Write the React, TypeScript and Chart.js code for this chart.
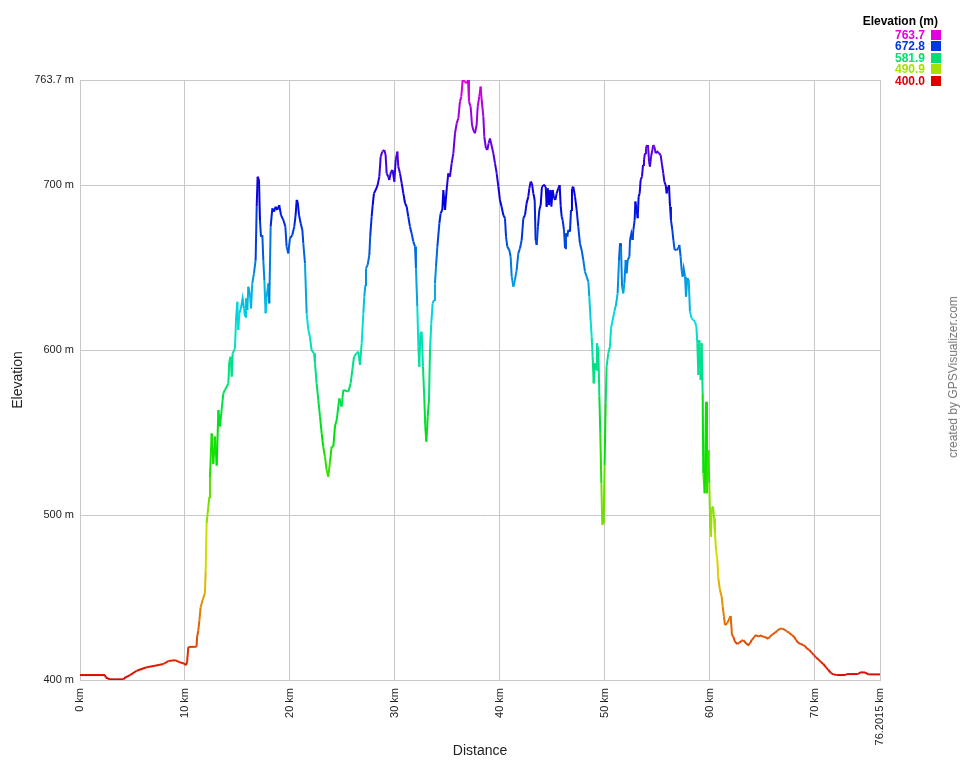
import React, { useEffect, useRef } from "react";
import { Chart, registerables } from "chart.js";

Chart.register(...registerables);

const distKm = [
  0, 2.38, 2.45, 2.86, 4.13, 4.3, 4.76, 5.4, 6.35, 7.14, 7.94, 8.41, 9.05, 9.52, 9.9, 10.1, 10.2, 10.32, 11.1, 11.15,
  11.27, 11.37, 11.49, 11.68, 11.9, 11.97, 12.06, 12.22, 12.32, 12.38, 12.54, 12.7, 12.86, 13.02, 13.18, 13.33, 13.49, 13.65, 13.81, 14.13,
  14.22, 14.35, 14.45, 14.54, 14.76, 14.86, 14.99, 15.08, 15.18, 15.33, 15.49, 15.62, 15.72, 15.81, 15.94, 16.03, 16.19, 16.29, 16.41, 16.57,
  16.73, 16.83, 16.92, 17.05, 17.14, 17.24, 17.37, 17.46, 17.56, 17.68, 17.78, 17.94, 18.03, 18.16, 18.32, 18.48, 18.63, 18.79, 18.98, 19.14,
  19.37, 19.56, 19.68, 19.84, 20.0, 20.22, 20.41, 20.54, 20.64, 20.73, 20.86, 21.02, 21.18, 21.27, 21.43, 21.59, 21.75, 21.9, 22.06, 22.29,
  22.38, 22.54, 22.7, 22.86, 23.02, 23.17, 23.33, 23.49, 23.65, 23.81, 23.97, 24.13, 24.29, 24.45, 24.7, 24.92, 25.08, 25.56, 25.78, 25.94,
  26.1, 26.35, 26.51, 26.67, 26.83, 26.99, 27.08, 27.18, 27.24, 27.4, 27.56, 27.65, 27.78, 27.88, 28.0, 28.16, 28.35, 28.51, 28.64, 28.8,
  28.99, 29.11, 29.21, 29.37, 29.46, 29.62, 29.78, 29.94, 30.07, 30.23, 30.32, 30.48, 30.64, 30.8, 30.96, 31.12, 31.27, 31.43, 31.59, 31.75,
  31.91, 32.0, 32.13, 32.23, 32.32, 32.42, 32.54, 32.67, 32.8, 32.89, 32.99, 33.12, 33.24, 33.34, 33.46, 33.59, 33.72, 33.81, 33.91, 34.04,
  34.23, 34.35, 34.51, 34.61, 34.77, 34.92, 35.08, 35.24, 35.4, 35.56, 35.72, 35.88, 36.04, 36.19, 36.32, 36.45, 36.67, 36.83, 36.96, 37.05,
  37.21, 37.34, 37.46, 37.62, 37.78, 37.88, 38.03, 38.16, 38.26, 38.42, 38.51, 38.67, 38.8, 38.92, 39.05, 39.37, 39.53, 39.69, 39.85, 40.0,
  40.16, 40.32, 40.48, 40.58, 40.7, 40.89, 41.02, 41.12, 41.28, 41.43, 41.59, 41.75, 41.91, 42.07, 42.23, 42.39, 42.54, 42.7, 42.8, 42.93,
  43.05, 43.18, 43.31, 43.4, 43.5, 43.62, 43.75, 43.88, 44.0, 44.2, 44.36, 44.45, 44.55, 44.67, 44.8, 44.9, 45.02, 45.15, 45.28, 45.4,
  45.56, 45.69, 45.78, 45.88, 45.97, 46.1, 46.2, 46.29, 46.42, 46.51, 46.67, 46.77, 46.86, 46.99, 47.15, 47.31, 47.46, 47.62, 47.78, 47.94,
  48.1, 48.26, 48.42, 48.51, 48.64, 48.74, 48.83, 48.93, 49.02, 49.15, 49.24, 49.37, 49.47, 49.56, 49.66, 49.75, 49.88, 49.97, 50.07, 50.16,
  50.32, 50.48, 50.58, 50.74, 50.9, 51.05, 51.21, 51.34, 51.44, 51.53, 51.63, 51.75, 51.85, 51.98, 52.07, 52.17, 52.33, 52.39, 52.52, 52.64,
  52.71, 52.83, 52.9, 53.02, 53.12, 53.21, 53.31, 53.4, 53.53, 53.63, 53.72, 53.82, 53.91, 54.01, 54.1, 54.2, 54.29, 54.39, 54.52, 54.61,
  54.71, 54.83, 54.99, 55.15, 55.31, 55.44, 55.56, 55.66, 55.79, 55.88, 56.01, 56.1, 56.2, 56.29, 56.42, 56.52, 56.64, 56.83, 56.99, 57.09,
  57.21, 57.31, 57.4, 57.5, 57.63, 57.72, 57.85, 57.98, 58.1, 58.26, 58.42, 58.58, 58.71, 58.8, 58.9, 58.99, 59.12, 59.21, 59.31, 59.37,
  59.5, 59.63, 59.72, 59.85, 59.94, 60.04, 60.1, 60.17, 60.3, 60.39, 60.48, 60.58, 60.71, 60.8, 60.96, 61.12, 61.22, 61.34, 61.44, 61.66,
  61.85, 61.98, 62.1, 62.23, 62.39, 62.61, 62.8, 63.03, 63.18, 63.44, 63.66, 63.82, 63.98, 64.2, 64.39, 64.61, 64.83, 65.09, 65.34, 65.56,
  65.72, 65.88, 66.2, 66.42, 66.68, 66.93, 67.15, 67.31, 67.56, 67.79, 68.01, 68.2, 68.42, 68.64, 68.9, 69.06, 69.22, 69.47, 69.69, 69.91,
  70.1, 70.33, 70.55, 70.8, 71.06, 71.28, 71.5, 71.76, 72.07, 72.87, 73.03, 74.14, 74.3, 74.77, 75.09, 76.2015,
];

const elevM = [
  403, 403, 401.5, 400.4, 400.4, 401.5, 403, 405.6, 407.7, 408.7, 409.7, 411.5, 412, 410.7, 410, 409, 411, 420, 420.2, 426,
  430, 436, 444, 448.5, 452.6, 466, 495, 505, 511, 523, 549.5, 531, 547.5, 530, 563.7, 553.5, 563.7, 573.8, 575.8, 579.8,
  593, 596, 583.9, 598, 601, 618.2, 629.3, 612.2, 622.3, 625.3, 631.3, 625.3, 620.2, 631.3, 624.3, 638.4, 633.4, 625.3, 640.4, 646.5,
  654.6, 686.9, 705.1, 703, 678.8, 668.7, 669.7, 654.6, 642.5, 622.3, 632.3, 640.4, 628.3, 674.8, 685.9, 683.9, 686.9, 684.9, 687.9, 681.9,
  678.8, 674.8, 662.7, 658.6, 667.7, 669.7, 674.8, 681.9, 691, 690, 681.9, 676.8, 672.8, 664.7, 652.6, 622.3, 612.2, 608.1, 600, 598,
  592, 579.8, 569.7, 559.6, 549.5, 541.4, 535.4, 527.3, 523.2, 532.3, 541.4, 541.4, 554, 557.6, 570.7, 565.7, 575.8, 574.8, 579.8, 587.9,
  596, 598, 599, 591, 604, 622.3, 632.4, 639.4, 649.5, 651.6, 657.6, 669.7, 680.9, 687.9, 695, 697, 700, 705.1, 717.2, 720.3,
  721.3, 718.2, 707.1, 705.1, 703.1, 708.1, 709.1, 702.1, 715.2, 720.3, 711.2, 707.1, 701.1, 695, 689, 686.9, 680.9, 674.8, 670.7, 665.7,
  662.7, 649.5, 626.3, 602, 589.9, 610.1, 611.1, 589.9, 569.7, 553.5, 544.5, 559.6, 569.7, 600, 616.2, 628.3, 630.3, 640.4, 650.5, 662.7,
  676.8, 682.9, 684.9, 697, 684.9, 697, 707.1, 705.1, 713.2, 719.2, 731.4, 737.4, 740.5, 750.6, 753.6, 763.7, 762.7, 761.7, 763.7, 750.6,
  747.5, 736.4, 733.4, 731.4, 736.4, 747.5, 753.6, 759.7, 751.6, 741.5, 729.3, 722.3, 721.3, 725.3, 728.3, 719.3, 713.2, 707.1, 699, 691,
  686.9, 681.9, 679.9, 668.7, 662.7, 660.7, 656.6, 644.5, 638.4, 642.5, 648.5, 658.6, 661.7, 666.7, 679.9, 681.9, 689, 693, 698, 702.1,
  701.1, 695, 691, 666.7, 663.7, 674.8, 684.9, 687.9, 699, 700, 699, 686.9, 698, 687.9, 697, 686.9, 697, 692, 691, 695,
  698, 700, 687.9, 680.9, 678.8, 672.8, 661.7, 670.7, 668.7, 672.8, 671.8, 684.9, 698, 699, 693, 684.9, 674.8, 664.7, 660.7, 654.6,
  647.5, 644.5, 641.5, 632.4, 618.2, 608.1, 596, 579.8, 592, 588, 604.1, 600, 571.8, 549.5, 519.2, 494, 495, 530.3, 567.7, 590,
  598, 602.1, 613.2, 618.2, 623.3, 627.3, 634.4, 654.6, 664.7, 662.7, 638.4, 634.4, 640.4, 654.6, 646.5, 654.6, 656.6, 666.7, 670.7, 666.7,
  672.8, 678.8, 690, 685, 679.9, 693, 695, 703.1, 705.1, 712.2, 715.2, 719.3, 722.3, 724.3, 724.3, 714.2, 711.2, 717.2, 721.3, 724.3,
  723.3, 719.3, 720.3, 719.3, 718.2, 712.2, 707.1, 702.1, 700, 695, 699, 700, 686.9, 678.8, 672.8, 666.7, 660.7, 660.7, 661.7, 663.7,
  656.6, 648.5, 644.5, 649.5, 644.5, 632.4, 643.5, 642.5, 623.3, 619.2, 618.2, 617.2, 614.2, 604.1, 584.9, 606.1, 581.9, 604.1, 573.8, 525.3,
  513.2, 568.7, 513.2, 539.4, 519.2, 490.9, 486.9, 504.1, 505, 498, 489, 478.8, 472.7, 461.6, 454.5, 450.5, 444.5, 438.4, 433.3, 434.4,
  437.4, 438.8, 427.3, 426.3, 423.2, 421.8, 422.6, 423.8, 424.2, 422.2, 421.2, 422.2, 424.2, 425.8, 427.3, 426.3, 426.9, 426.3, 425.8, 425,
  426.3, 427.3, 428.7, 429.9, 431.1, 431.1, 430.3, 429.5, 428.7, 427.3, 426.3, 424.2, 422.6, 421.8, 421.2, 420.6, 419.2, 418.2, 416.6, 415.1,
  413.7, 412.5, 411.1, 409.7, 407.7, 406.1, 404.4, 403.4, 403, 403, 403.6, 403.6, 404.6, 404.6, 403.4, 403.4,
];

const xTickValues = [0, 10, 20, 30, 40, 50, 60, 70, 76.2015];
const yTickValues = [400, 500, 600, 700, 763.7];
const legendValues = [763.7, 672.8, 581.9, 490.9, 400.0];
const ELEV_MIN = 400;
const ELEV_MAX = 763.7;

const FONT = "'Liberation Sans', Arial, Helvetica, sans-serif";
const GRID = "#c8c8c8";

function elevColor(v: number): string {
  const t = Math.max(0, Math.min(1, (v - ELEV_MIN) / (ELEV_MAX - ELEV_MIN)));
  const h = 300 * t;
  const V = 0.88;
  const c = V;
  const xx = c * (1 - Math.abs(((h / 60) % 2) - 1));
  let r = 0, g = 0, b = 0;
  if (h < 60) { r = c; g = xx; }
  else if (h < 120) { r = xx; g = c; }
  else if (h < 180) { g = c; b = xx; }
  else if (h < 240) { g = xx; b = c; }
  else { r = xx; b = c; }
  const to = (n: number) => Math.round(n * 255);
  return `rgb(${to(r)},${to(g)},${to(b)})`;
}

export default function App() {
  const canvasRef = useRef<HTMLCanvasElement | null>(null);

  useEffect(() => {
    if (!canvasRef.current) return;
    const points = distKm.map((d, i) => ({ x: d, y: elevM[i] }));
    const chart = new Chart(canvasRef.current, {
      type: "line",
      data: {
        datasets: [
          {
            data: points,
            borderWidth: 2,
            pointRadius: 0,
            tension: 0,
            fill: false,
            borderColor: elevColor(500),
            segment: {
              borderColor: (ctx: any) => elevColor((ctx.p0.parsed.y + ctx.p1.parsed.y) / 2),
            },
          },
        ],
      },
      options: {
        responsive: false,
        animation: false,
        parsing: false as any,
        layout: { padding: { top: 80, right: 80, left: 0, bottom: 0 } },
        plugins: {
          legend: { display: false },
          tooltip: { enabled: false },
        },
        scales: {
          x: {
            type: "linear",
            min: 0,
            max: 76.2015,
            afterBuildTicks: (scale: any) => {
              scale.ticks = xTickValues.map((v) => ({ value: v }));
            },
            afterFit: (scale: any) => {
              scale.height = 80;
            },
            grid: { color: GRID, lineWidth: 1, drawTicks: false },
            border: { color: GRID },
            ticks: {
              autoSkip: false,
              minRotation: 90,
              maxRotation: 90,
              padding: 8,
              color: "#222",
              font: { family: FONT, size: 11 },
              callback: (v: any) => `${v} km`,
            },
            title: {
              display: true,
              text: "Distance",
              color: "#222",
              font: { family: FONT, size: 14 },
              padding: { top: 0, bottom: 0 },
            },
          },
          y: {
            type: "linear",
            min: ELEV_MIN,
            max: ELEV_MAX,
            afterBuildTicks: (scale: any) => {
              scale.ticks = yTickValues.map((v) => ({ value: v }));
            },
            afterFit: (scale: any) => {
              scale.width = 80;
            },
            grid: { color: GRID, lineWidth: 1, drawTicks: false },
            border: { color: GRID },
            ticks: {
              padding: 6,
              color: "#222",
              font: { family: FONT, size: 11 },
              callback: (v: any) => `${v} m`,
            },
            title: {
              display: true,
              text: "Elevation",
              color: "#222",
              font: { family: FONT, size: 14 },
              padding: { top: 10, bottom: 0 },
            },
          },
        },
      },
    });
    return () => chart.destroy();
  }, []);

  const rowCenters = [34.8, 46.2, 57.6, 69.0, 80.5];

  return (
    <div style={{ position: "absolute", left: 0, top: 0, width: 960, height: 760, background: "#fff", fontFamily: FONT }}>
      <canvas ref={canvasRef} width={960} height={760} style={{ position: "absolute", left: 0, top: 0 }} />
      <div
        style={{
          position: "absolute",
          right: 960 - 938,
          top: 12.5,
          height: 16,
          lineHeight: "16px",
          fontSize: 12,
          fontWeight: "bold",
          color: "#000",
          whiteSpace: "nowrap",
        }}
      >
        Elevation (m)
      </div>
      {legendValues.map((v, i) => (
        <React.Fragment key={v}>
          <div
            style={{
              position: "absolute",
              right: 960 - 925,
              top: rowCenters[i] - 7,
              height: 14,
              lineHeight: "14px",
              fontSize: 12,
              fontWeight: "bold",
              color: elevColor(v),
              whiteSpace: "nowrap",
            }}
          >
            {v.toFixed(1)}
          </div>
          <div
            style={{
              position: "absolute",
              left: 931,
              top: rowCenters[i] - 5,
              width: 10,
              height: 10,
              background: elevColor(v),
            }}
          />
        </React.Fragment>
      ))}
      <div
        style={{
          position: "absolute",
          left: 953,
          top: 377,
          transform: "translate(-50%, -50%) rotate(-90deg)",
          fontSize: 12,
          color: "#777",
          whiteSpace: "nowrap",
          lineHeight: "14px",
        }}
      >
        created by GPSVisualizer.com
      </div>
    </div>
  );
}
